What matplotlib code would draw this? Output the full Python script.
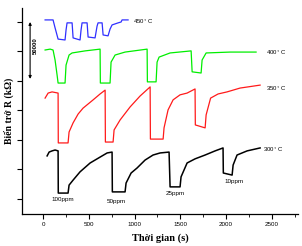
import matplotlib
matplotlib.use("Agg")
import matplotlib.pyplot as plt
from matplotlib.ticker import MultipleLocator

# 300 C trace (black)
t_300 = [44, 66, 98, 131, 164, 166, 273, 284, 328, 404, 514, 623, 700, 754, 757, 896, 907, 962,
         1027, 1115, 1202, 1279, 1377, 1388, 1497, 1508, 1574, 1661, 1771, 1880, 1967, 1970, 2066,
         2077, 2120, 2230, 2372]
r_300 = [2.46, 2.59, 2.63, 2.66, 2.63, 1.20, 1.20, 1.47, 1.64, 1.92, 2.22, 2.42, 2.56, 2.59, 1.24,
         1.24, 1.54, 1.88, 2.05, 2.32, 2.49, 2.56, 2.59, 1.41, 1.41, 1.75, 2.22, 2.36, 2.49, 2.63,
         2.73, 1.88, 1.81, 2.15, 2.49, 2.63, 2.73]

# 350 C trace (red)
t_350 = [22, 55, 98, 164, 166, 273, 284, 328, 383, 437, 547, 623, 678, 681, 765, 776, 842, 951,
         1060, 1170, 1173, 1312, 1322, 1366, 1421, 1497, 1574, 1661, 1664, 1771, 1782, 1831, 1913,
         2011, 2153, 2372]
r_350 = [4.42, 4.59, 4.63, 4.59, 2.90, 2.90, 3.27, 3.58, 3.88, 4.08, 4.36, 4.56, 4.69, 2.93, 2.93,
         3.34, 3.68, 4.12, 4.49, 4.80, 3.03, 3.03, 3.41, 4.02, 4.36, 4.53, 4.59, 4.73, 3.51, 3.41,
         3.85, 4.42, 4.56, 4.63, 4.76, 4.86]

# 400 C trace (green)
t_400 = [22, 77, 109, 131, 153, 164, 240, 251, 284, 317, 459, 623, 626, 732, 743, 787, 896, 1137,
         1140, 1235, 1246, 1268, 1388, 1618, 1629, 1727, 1738, 1782, 2044, 2328]
r_400 = [6.05, 6.08, 6.05, 5.71, 5.20, 4.93, 4.93, 5.54, 5.88, 5.95, 6.02, 6.08, 4.93, 4.93, 5.64,
         5.88, 5.98, 6.08, 4.97, 4.97, 5.64, 5.81, 5.95, 6.02, 5.31, 5.27, 5.71, 5.95, 5.98, 5.98]

# 450 C trace (blue)
t_450 = [22, 109, 131, 164, 240, 251, 262, 317, 328, 404, 415, 426, 481, 492, 568, 590, 601, 645,
         656, 710, 732, 754, 820, 853, 863, 929]
r_450 = [7.07, 7.07, 6.80, 6.42, 6.39, 6.73, 6.97, 6.97, 6.46, 6.39, 6.73, 6.97, 6.97, 6.49, 6.46,
         6.86, 6.97, 6.97, 6.56, 6.53, 6.76, 6.90, 6.97, 7.00, 7.07, 7.07]

temp_labels = ["450$^\\circ$C", "400$^\\circ$C", "350$^\\circ$C", "300$^\\circ$C"]
temp_pos = [(984, 7.0), (2437, 5.98), (2437, 4.76), (2405, 2.69)]
ppm_labels = ["100ppm", "50ppm", "25ppm", "10ppm"]
ppm_pos = [(219, 0.97), (798, 0.90), (1443, 1.17), (2088, 1.58)]
x_ticks = [0, 500, 1000, 1500, 2000, 2500]
y_ticks = [1, 2, 3, 4, 5, 6, 7]

fig = plt.figure(figsize=(3.02, 2.46), dpi=100)
ax = fig.add_axes([0.073, 0.130, 0.914, 0.837])

ax.plot(t_450, r_450, color="#3030ff", lw=0.9)
ax.plot(t_400, r_400, color="#00ee00", lw=0.9)
ax.plot(t_350, r_350, color="#ff1a1a", lw=0.9)
ax.plot(t_300, r_300, color="black", lw=1.1)

for lab, (x, y) in zip(temp_labels, temp_pos):
    ax.text(x, y, lab, fontsize=4.3, va="center", ha="left", family="Liberation Sans")
for lab, (x, y) in zip(ppm_labels, ppm_pos):
    ax.text(x, y, lab, fontsize=4.5, va="center", ha="center", family="Liberation Sans")

# scale bar
ax.annotate("", xy=(-142, 7.0), xytext=(-142, 5.07),
            arrowprops=dict(arrowstyle="<|-|>", lw=0.8, color="black",
                            mutation_scale=4, shrinkA=0, shrinkB=0))
ax.text(-87, 6.19, "50000", rotation=90, fontsize=4.3, ha="center", va="center",
        family="Liberation Sans", fontweight="bold")

ax.set_xlim(-230, 2787)
ax.set_ylim(0.49, 7.47)
ax.set_xticks(x_ticks)
ax.xaxis.set_minor_locator(MultipleLocator(250))
ax.set_yticks(y_ticks)
ax.set_yticklabels([])
for side in ["top", "right"]:
    ax.spines[side].set_visible(False)
ax.spines["left"].set_linewidth(0.9)
ax.spines["bottom"].set_linewidth(0.9)
ax.tick_params(axis="both", which="major", direction="out", length=3.5, width=0.8,
               labelsize=4.5, pad=2)
ax.tick_params(axis="x", which="minor", direction="out", length=2, width=0.6)
for lab in ax.get_xticklabels():
    lab.set_family("Liberation Sans")

ax.set_xlabel("Thời gian (s)", family="Liberation Serif", fontweight="bold", fontsize=7.5,
              labelpad=5)
ax.set_ylabel("Biến trở R (kΩ)", family="Liberation Serif", fontweight="bold", fontsize=7,
              labelpad=0.5)

fig.savefig("out.png", dpi=100)
